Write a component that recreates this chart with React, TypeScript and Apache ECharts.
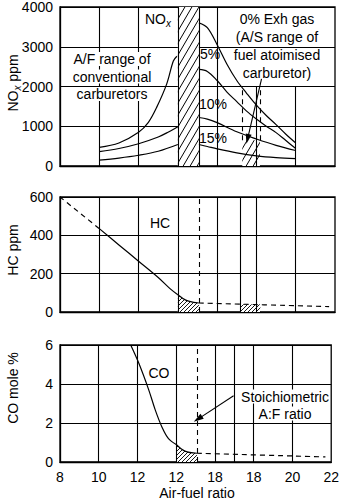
import React, { useEffect, useRef } from "react";
import * as echarts from "echarts";

// ---------- data ----------
const xTickLabels = ["8", "10", "12", "12", "18", "18", "20", "22"];

// NOx (ppm) – rich side, conventional carburettor range
const noxRichA = [[10, 470], [11, 580], [12, 850], [12.5, 1100], [12.92, 1475], [13.43, 2060], [13.77, 2640], [13.95, 2760]];
const noxRichB = [[10, 360], [11, 440], [12, 560], [13, 730], [13.5, 850], [14, 990]];
const noxRichC = [[10, 150], [11, 200], [12, 270], [13, 370], [14, 540]];
// NOx (ppm) – lean side, by exhaust gas recirculation
const nox0 = [[15.07, 3600], [15.5, 3480], [16, 3050], [16.5, 2560], [17, 2150], [17.5, 1830], [18, 1530], [18.5, 1270], [19, 1040], [19.5, 800], [20, 580]];
const nox5 = [[15.07, 2430], [15.5, 2380], [16, 2150], [16.5, 1860], [17, 1620], [17.5, 1380], [18, 1180], [18.5, 1000], [19, 840], [19.5, 640], [20, 440]];
const nox10 = [[15.07, 1220], [15.5, 1180], [16, 1090], [17, 860], [18, 680], [19, 520], [20, 390]];
const nox15 = [[15.07, 540], [15.5, 490], [16, 430], [17, 330], [18, 255], [19, 210], [20, 185]];
const carbBand = [[14, 4000], [15.07, 4000]];
const atomBox = [[17.28, 650], [18.18, 650]];

// HC (ppm)
const hcRich = [[8, 600], [10, 435]];
const hcMain = [[10, 435], [11, 350], [12, 265], [13, 180], [13.6, 122], [14, 90]];
const hcHatched = [[14, 90], [14.4, 62], [14.8, 50], [15.07, 47]];
const hcLean = [[15.07, 47], [21.7, 28]];
const hcBox = [[17.2, 40], [18.2, 40]];

// CO (mole %)
const coMain = [[11.65, 6], [12.07, 5.06], [12.58, 3.7], [12.92, 2.66], [13.26, 1.8], [13.6, 1.2], [14, 0.9]];
const coHatched = [[14, 0.9], [14.45, 0.56], [15.07, 0.45]];
const coLean = [[15.07, 0.45], [21.7, 0.26]];

const stoich = 15.07;
// vertical rules
const topRulesFull = [10, 12, 14, 15.07, 16];
const topRulesLow = [18, 20];
const atomDash = [17.28, 18.18];
const midRules = [10, 12, 14, 16, 17.2, 18, 20];
const botRules = [10, 12, 14, 16, 17, 18, 20];

const FONT = "'Liberation Sans', Arial, sans-serif";

function hatch(w: number, h: number, lw: number) {
  const svg = `<svg xmlns='http://www.w3.org/2000/svg' width='${w}' height='${h}'><rect width='${w}' height='${h}' fill='white'/><path d='M${-w} ${h}L0 0M0 ${h}L${w} 0M${w} ${h}L${2 * w} 0' stroke='black' stroke-width='${lw}'/></svg>`;
  return {
    image: "data:image/svg+xml," + encodeURIComponent(svg),
    repeat: "repeat",
    imageWidth: w,
    imageHeight: h,
  } as any;
}

export default function App() {
  const ref = useRef<HTMLDivElement>(null);
  useEffect(() => {
    if (!ref.current) return;
    const chart = echarts.init(ref.current, null, { renderer: "svg" });
    const big = hatch(7, 12, 1);
    const small = hatch(4, 4, 0.9);

    const curve = (data: any, gi: number, dashed = false, extra: any = {}) => ({
      type: "line",
      xAxisIndex: gi,
      yAxisIndex: gi,
      data,
      smooth: 0.35,
      symbol: "none",
      silent: true,
      lineStyle: { color: "#000", width: 1.2, type: dashed ? [5, 4] : "solid" },
      z: 4,
      ...extra,
    });
    const area = (data: any, gi: number, pat: any) => ({
      type: "line",
      xAxisIndex: gi,
      yAxisIndex: gi,
      data,
      symbol: "none",
      silent: true,
      lineStyle: { width: 0 },
      areaStyle: { color: pat, opacity: 1 },
      z: 3,
    });
    const vl = (x: number, y0: number, y1: number, dashed = false) => [
      { coord: [x, y0], lineStyle: { type: dashed ? [5, 4] : "solid", color: "#000", width: 1.1 } },
      { coord: [x, y1] },
    ];
    const rules = (gi: number, lines: any[]) => ({
      type: "line",
      xAxisIndex: gi,
      yAxisIndex: gi,
      data: [],
      silent: true,
      z: 5,
      markLine: {
        silent: true,
        symbol: ["none", "none"],
        label: { show: false },
        animation: false,
        lineStyle: { color: "#000", width: 1.1, type: "solid" },
        data: lines,
      },
    });
    const arrow = (gi: number, from: number[], to: number[]) => ({
      type: "line",
      xAxisIndex: gi,
      yAxisIndex: gi,
      data: [],
      silent: true,
      z: 6,
      markLine: {
        silent: true,
        symbol: ["none", "triangle"],
        symbolSize: [6, 10],
        label: { show: false },
        animation: false,
        lineStyle: { color: "#000", width: 1.1, type: "solid" },
        itemStyle: { color: "#000" },
        data: [[{ coord: from }, { coord: to }]],
      },
    });

    const grids = [
      { left: 60, top: 6, width: 275, height: 160 },
      { left: 60, top: 197, width: 275, height: 115 },
      { left: 60, top: 345, width: 275, height: 117 },
    ].map((g) => ({ ...g, show: true, borderColor: "#000", borderWidth: 1.3 }));

    const xAxes = [0, 1, 2].map((i) => ({
      type: "value",
      gridIndex: i,
      min: 8,
      max: 22,
      interval: 2,
      splitLine: { show: false },
      axisTick: { show: false },
      axisLine: { show: true, lineStyle: { color: "#000", width: 1.3 } },
      axisLabel: {
        show: i === 2,
        color: "#000",
        fontSize: 14,
        fontFamily: FONT,
        margin: 8,
        formatter: (v: number) => xTickLabels[Math.round((v - 8) / 2)] ?? "",
      },
    }));
    const yDefs = [
      { max: 4000, interval: 1000 },
      { max: 600, interval: 200 },
      { max: 6, interval: 2 },
    ];
    const yAxes = yDefs.map((d, i) => ({
      type: "value",
      gridIndex: i,
      min: 0,
      max: d.max,
      interval: d.interval,
      splitLine: { show: true, lineStyle: { color: "#000", width: 1.1 } },
      axisTick: { show: false },
      axisLine: { show: true, lineStyle: { color: "#000", width: 1.3 } },
      axisLabel: {
        color: "#000",
        fontSize: 14,
        fontFamily: FONT,
        margin: 7,
        formatter: (v: number) => String(v),
      },
    }));

    const txt = (text: string, x: number, y: number, align = "center", extra: any = {}) => ({
      type: "text",
      x,
      y,
      silent: true,
      z: 100,
      style: {
        text,
        fontSize: 14,
        fontFamily: FONT,
        fill: "#000",
        align,
        verticalAlign: "middle",
        ...extra,
      },
    });
    const bg = { backgroundColor: "#fff", padding: [0, 1], lineHeight: 14 };
    const rich = {
      n: { fontSize: 14, fontFamily: FONT, lineHeight: 18, verticalAlign: "middle" },
      s: { fontSize: 10, fontFamily: FONT, fontStyle: "italic", lineHeight: 10, verticalAlign: "bottom" },
    };

    const graphic = [
      txt("A/F range of", 112, 59, "center", bg),
      txt("conventional", 112, 76.5, "center", bg),
      txt("carburetors", 112, 94, "center", bg),
      txt("{n|NO}{s|x}", 145, 19, "left", { rich }),
      txt("5%", 200, 53.5, "left"),
      txt("10%", 199, 104, "left"),
      txt("15%", 199, 137.5, "left"),
      txt("0% Exh gas", 277, 19),
      txt("(A/S range of", 277, 36.5),
      txt("fuel atoimised", 277, 55),
      txt("carburetor)", 277, 72.5),
      txt("HC", 160, 223),
      txt("CO", 159, 373),
      txt("Stoichiometric", 285, 396.5, "center", bg),
      txt("A:F ratio", 285, 413.5, "center", bg),
      { ...txt("{n|NO}{s|x}{n| ppm}", 13, 83, "center", { rich }), rotation: Math.PI / 2 },
      { ...txt("HC ppm", 13, 250), rotation: Math.PI / 2 },
      { ...txt("CO mole %", 13, 388), rotation: Math.PI / 2 },
      txt("Air-fuel ratio", 197, 493),
    ];

    const series: any[] = [
      // top panel
      area(carbBand, 0, big),
      area(atomBox, 0, big),
      curve(noxRichA, 0),
      curve(noxRichB, 0),
      curve(noxRichC, 0),
      curve(nox0, 0),
      curve(nox5, 0),
      curve(nox10, 0),
      curve(nox15, 0),
      rules(0, [
        ...topRulesFull.map((x) => vl(x, 0, 4000)),
        ...topRulesLow.map((x) => vl(x, 0, 2000)),
        ...atomDash.map((x) => vl(x, 650, 1950, true)),
      ]),
      arrow(0, [18.26, 2190], [17.55, 680]),
      // middle panel
      area(hcBox, 1, small),
      curve(hcRich, 1, true),
      curve(hcMain, 1),
      curve(hcHatched, 1, false, { areaStyle: { color: small, opacity: 1 } }),
      curve(hcLean, 1, true),
      rules(1, [...midRules.map((x) => vl(x, 0, 600)), vl(stoich, 0, 600, true)]),
      // bottom panel
      curve(coMain, 2),
      curve(coHatched, 2, false, { areaStyle: { color: small, opacity: 1 } }),
      curve(coLean, 2, true),
      rules(2, [...botRules.map((x) => vl(x, 0, 6)), vl(stoich, 0, 6, true)]),
      arrow(2, [16.96, 3.4], [15.12, 2.2]),
    ];

    chart.setOption({
      animation: false,
      backgroundColor: "#fff",
      grid: grids,
      xAxis: xAxes,
      yAxis: yAxes,
      series,
      graphic,
    });
    return () => chart.dispose();
  }, []);
  return (
    <div
      ref={ref}
      style={{ position: "fixed", left: 0, top: 0, width: 342, height: 501, background: "#fff" }}
    />
  );
}
